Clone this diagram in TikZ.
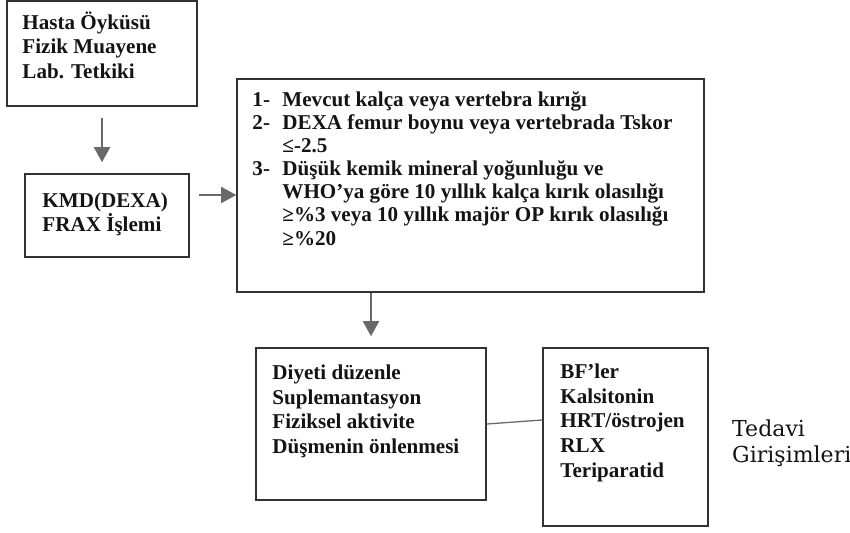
\documentclass[tikz,border=0pt]{standalone}
\usepackage{fontspec}
\setmainfont{Liberation Serif}
\newfontfamily\dejaserif{DejaVu Serif}
\usetikzlibrary{arrows.meta,positioning}
\definecolor{frame}{RGB}{50,50,50}
\definecolor{pointer}{RGB}{105,105,105}
\definecolor{ink}{RGB}{20,20,20}
\newcommand{\listno}[1]{\makebox[0.9cm][l]{#1}}

\begin{document}
\begin{tikzpicture}[
    box/.style={rectangle, draw=frame, line width=1.3pt},
    txt/.style={inner sep=0pt, align=left, text=ink, font=\bfseries\fontsize{18}{20.6}\selectfont},
    arrow/.style={-{Triangle[length=0.45cm, width=0.48cm]}, pointer, line width=1.5pt},
    link/.style={pointer, line width=1.1pt}]

    \useasboundingbox (0,0) rectangle (25.5,-15.96);

    % Assessment
    \node[box, minimum width=5.7cm, minimum height=3.15cm] (hist) at (3.06,-1.6) {};
    \node[txt, below right=0.36cm and 0.48cm of hist.north west] (hist-t) {Hasta Öyküsü\\Fizik Muayene\\Lab. Tetkiki};

    \node[box, minimum width=4.92cm, minimum height=2.49cm] (kmd) at (3.21,-6.465) {};
    \node[txt, font=\bfseries\fontsize{18}{18.8}\selectfont, below right=0.58cm and 0.54cm of kmd.north west] (kmd-t) {KMD(DEXA)\\FRAX İşlemi};

    % Criteria
    \node[box, minimum width=14.01cm, minimum height=6.39cm] (crit) at (14.115,-5.565) {};
    \node[txt, font=\bfseries\fontsize{18}{19.8}\selectfont, below right=0.38cm and 0.48cm of crit.north west] (crit-t)
        {\listno{1-}Mevcut kalça veya vertebra kırığı\\
         \listno{2-}DEXA femur boynu veya vertebrada Tskor\\
         \hspace*{0.9cm}≤-2.5\\
         \listno{3-}Düşük kemik mineral yoğunluğu ve\\
         \hspace*{0.9cm}WHO’ya göre 10 yıllık kalça kırık olasılığı\\
         \hspace*{0.9cm}≥\%3 veya 10 yıllık majör OP kırık olasılığı\\
         \hspace*{0.9cm}≥\%20};

    % Treatment
    \node[box, minimum width=6.9cm, minimum height=4.56cm] (diet) at (11.13,-12.72) {};
    \node[txt, font=\bfseries\fontsize{18}{21}\selectfont, below right=0.53cm and 0.51cm of diet.north west] (diet-t)
        {Diyeti düzenle\\Suplemantasyon\\Fiziksel aktivite\\Düşmenin önlenmesi};

    \node[box, minimum width=4.95cm, minimum height=5.34cm] (drug) at (18.765,-13.11) {};
    \node[txt, font=\bfseries\fontsize{18}{21}\selectfont, below right=0.5cm and 0.54cm of drug.north west] (drug-t)
        {BF’ler\\Kalsitonin\\HRT/östrojen\\RLX\\Teriparatid};

    \node[inner sep=0pt, anchor=west, align=left, text=ink, font=\dejaserif\fontsize{18.8}{22.2}\selectfont] (tedavi) at (21.96,-13.31) {Tedavi\\Girişimleri};

    % Connectors
    \coordinate (kmd-out) at ([yshift=0.615cm]kmd.east);
    \draw[arrow, shorten <=0.33cm, shorten >=0.33cm] (hist.south) -- (hist.south |- kmd.north);
    \draw[arrow, shorten <=0.27cm] (kmd-out) -- (kmd-out -| crit.west);
    \draw[arrow, shorten >=0.33cm] (diet.north |- crit.south) -- (diet.north);
    \draw[link] (diet.east) -- ([yshift=0.51cm]drug.west);

\end{tikzpicture}
\end{document}
